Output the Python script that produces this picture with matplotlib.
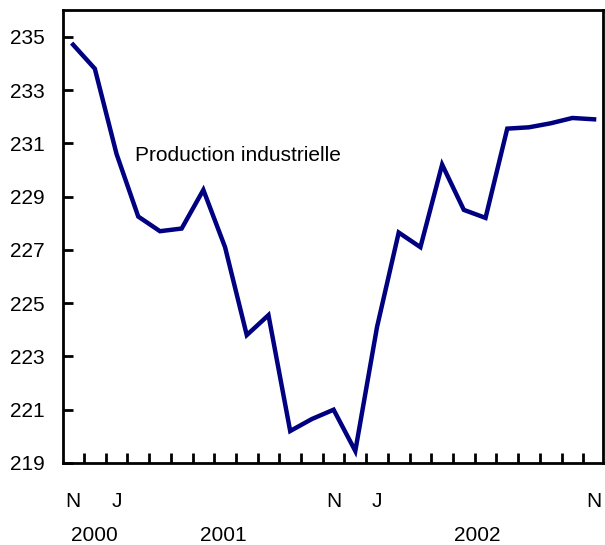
import matplotlib
matplotlib.use('Agg')

import matplotlib.pyplot as plt
import matplotlib.transforms as mtransforms

# monthly values, Nov 2000 .. Nov 2002
values = [234.7, 233.8, 230.6, 228.25, 227.7, 227.8, 229.25, 227.1, 223.8, 224.55,
          220.2, 220.65, 221.0, 219.45, 224.1, 227.65, 227.1, 230.2, 228.5, 228.2,
          231.55, 231.6, 231.75, 231.95, 231.9]
month_pos = [0, 2, 12, 14, 24]
month_labels = ["N", "J", "N", "J", "N"]
year_pos = [1, 6.9, 18.6]
year_labels = ["2000", "2001", "2002"]
yticks = [219, 221, 223, 225, 227, 229, 231, 233, 235]

plt.rcParams['font.family'] = ['Liberation Sans', 'DejaVu Sans']

fig = plt.figure(figsize=(6.05, 5.45), dpi=100)
ax = fig.add_axes([0.104, 0.1505, 0.893, 0.831])

x = list(range(len(values)))
ax.plot(x, values, color="#000080", linewidth=3.2, solid_joinstyle="miter")

ax.set_xlim(-0.47, 24.42)
ax.set_ylim(219, 236)

ax.set_yticks(yticks)
ax.tick_params(axis="y", direction="in", length=7, width=2, labelsize=15, pad=13)

ax.set_xticks(month_pos)
ax.set_xticklabels(month_labels)
ax.set_xticks([i + 0.5 for i in range(24)], minor=True)
ax.tick_params(axis="x", which="major", length=0, labelsize=15, pad=21)
ax.tick_params(axis="x", which="minor", direction="in", length=7, width=2)

trans = mtransforms.blended_transform_factory(ax.transData, ax.transAxes)
for p, lab in zip(year_pos, year_labels):
    ax.text(p, -0.16, lab, transform=trans, ha="center", va="center", fontsize=15)

ax.text(2.85, 230.55, "Production industrielle", fontsize=15, va="center", ha="left")

for s in ax.spines.values():
    s.set_linewidth(2)

fig.savefig("out.png", dpi=100)
plt.close(fig)
